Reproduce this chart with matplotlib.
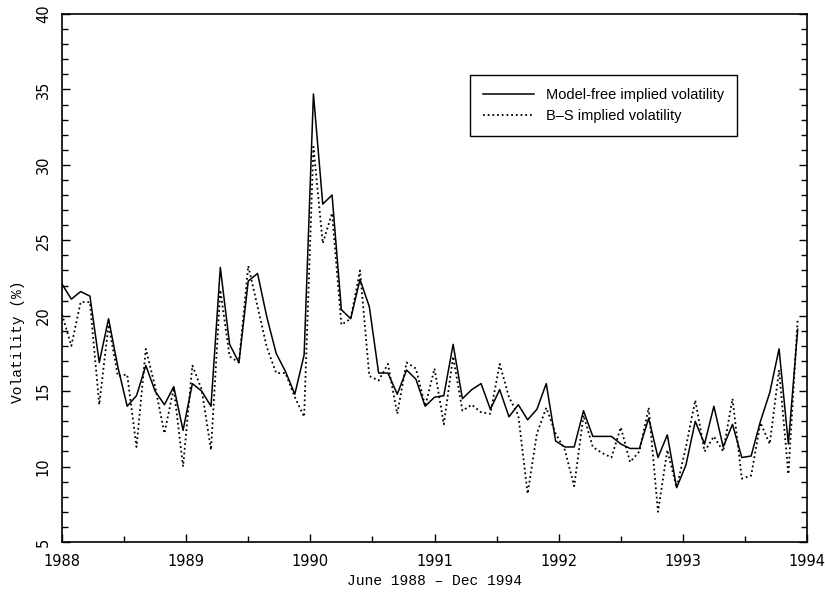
import matplotlib
matplotlib.use("Agg")
import matplotlib.pyplot as plt
from matplotlib.ticker import MultipleLocator
import numpy as np

model_free = [22.1, 21.1, 21.6, 21.3, 16.9, 19.8, 16.6, 14.0, 14.7, 16.7,
              15.0, 14.1, 15.3, 12.4, 15.5, 15.0, 14.0, 23.2, 18.1, 16.9,
              22.3, 22.8, 19.9, 17.5, 16.3, 14.8, 17.4, 34.7, 27.4, 28.0,
              20.4, 19.8, 22.4, 20.6, 16.2, 16.2, 14.8, 16.4, 15.8, 14.0,
              14.6, 14.7, 18.1, 14.5, 15.1, 15.5, 13.8, 15.1, 13.3, 14.1,
              13.1, 13.8, 15.5, 11.7, 11.3, 11.3, 13.7, 12.0, 12.0, 12.0,
              11.5, 11.2, 11.2, 13.2, 10.6, 12.1, 8.6, 10.1, 13.0, 11.5,
              14.0, 11.3, 12.8, 10.6, 10.7, 13.0, 14.9, 17.8, 11.5, 19.1]

bs_vol = [20.1, 18.0, 20.9, 20.9, 14.1, 19.4, 16.0, 16.1, 11.3, 17.8,
          15.3, 12.2, 15.2, 10.0, 16.7, 15.1, 11.1, 21.7, 17.3, 16.9,
          23.3, 20.6, 17.9, 16.2, 16.2, 14.6, 13.3, 31.2, 24.8, 26.8,
          19.4, 19.8, 23.0, 16.0, 15.7, 16.8, 13.5, 16.9, 16.5, 14.0,
          16.5, 12.8, 17.3, 13.7, 14.1, 13.6, 13.5, 16.8, 14.6, 13.4,
          8.2, 12.2, 13.9, 12.2, 11.1, 8.7, 13.4, 11.3, 10.9, 10.6,
          12.6, 10.3, 11.0, 13.9, 7.0, 11.1, 8.6, 11.3, 14.4, 11.0,
          12.0, 11.0, 14.5, 9.2, 9.4, 12.9, 11.5, 16.4, 9.5, 19.8]

year_start = 1988
year_end = 1994
x = year_start + np.arange(len(model_free)) * (year_end - year_start) / len(model_free)
year_ticks = list(range(1988, 1995))

fig = plt.figure(figsize=(8.25, 6.0), dpi=100)
ax = fig.add_axes([62/825, 1-542/600, (807-62)/825, (542-14)/600])

ax.plot(x, model_free, color="black", lw=1.1, label="Model-free implied volatility")
ax.plot(x, bs_vol, color="black", lw=1.3, linestyle=(0, (1, 1.6)), label="B\u2013S implied volatility")

ax.set_xlim(1988, 1994)
ax.set_ylim(5, 40)
ax.set_xticks(year_ticks)
ax.xaxis.set_minor_locator(MultipleLocator(0.5))
ax.yaxis.set_major_locator(MultipleLocator(5))
ax.yaxis.set_minor_locator(MultipleLocator(1))

tickfont = ["Liberation Sans Narrow", "DejaVu Sans"]
ax.tick_params(axis="both", which="major", direction="in", length=6, width=1.0,
               right=True, top=False, labelsize=10.5)
ax.tick_params(axis="both", which="minor", direction="in", length=4, width=1.0,
               right=True, top=False)
ax.tick_params(axis="x", which="major", pad=9)
ax.tick_params(axis="y", which="major", pad=8)
for lab in ax.get_xticklabels():
    lab.set_family(tickfont)
for lab in ax.get_yticklabels():
    lab.set_family(tickfont)
    lab.set_rotation(90)
    lab.set_va("center")

for sp in ax.spines.values():
    sp.set_linewidth(1.2)

ax.set_xlabel("June 1988 \u2013 Dec 1994", family="Liberation Mono", fontsize=10.5, labelpad=3)
ax.set_ylabel("Volatility (%)", family="Liberation Mono", fontsize=10.5, labelpad=8)
ax.yaxis.label.set_y(0.38)

leg = ax.legend(loc="upper left", bbox_to_anchor=(0.548, 0.884), borderaxespad=0,
                fancybox=False, edgecolor="black", framealpha=1, handlelength=3.5,
                borderpad=0.9, labelspacing=0.45, handletextpad=0.8,
                prop={"family": "Liberation Sans", "size": 10.5})
leg.get_frame().set_linewidth(1.0)

fig.savefig("out.png", dpi=100)
